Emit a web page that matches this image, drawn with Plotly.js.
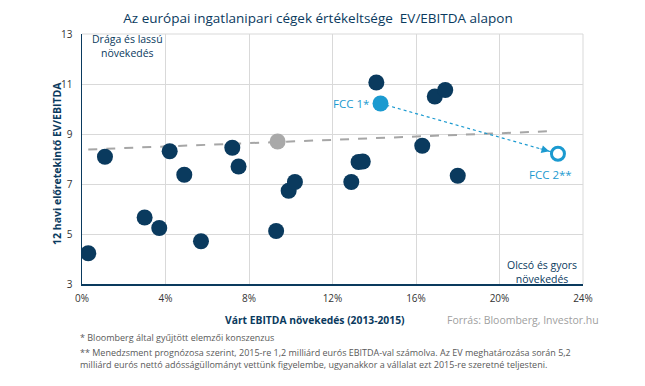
<!DOCTYPE html>
<html><head><meta charset="utf-8">
<script src="https://cdn.plot.ly/plotly-3.0.1.min.js"></script>
<style>html,body{margin:0;padding:0;background:#fff}#c{width:645px;height:386px}</style>
</head><body><div id="c"></div>
<script>
// Peer companies: expected EBITDA growth (%) and 12m forward EV/EBITDA
const peerGrowth = [0.3, 1.1, 3.0, 3.7, 4.2, 4.9, 5.7, 7.2, 7.5, 9.3, 9.9, 10.2, 12.9, 13.25, 13.45, 14.1, 16.3, 16.9, 17.4, 18.0];
const peerEV     = [4.23, 8.09, 5.66, 5.24, 8.31, 7.37, 4.71, 8.45, 7.70, 5.12, 6.73, 7.08, 7.08, 7.88, 7.90, 11.06, 8.53, 10.50, 10.76, 7.33];
// Average point (grey)
const avgGrowth = [9.37];
const avgEV = [8.70];
// FCC points
const fcc1 = {x: 14.3, y: 10.22, label: "FCC 1*"};
const fcc2 = {x: 22.8, y: 8.21, label: "FCC 2**"};
// Trend line endpoints
const trendX = [0.3, 22.7];
const trendY = [8.38, 9.12];
// Axis ticks
const xTicks = [0, 4, 8, 12, 16, 20, 24];
const xTickLabels = ["0%", "4%", "8%", "12%", "16%", "20%", "24%"];
const yTicks = [3, 5, 7, 9, 11, 13];

const navy = "#0a3a5e";
const blue = "#1b9ad0";
const font = "Open Sans, DejaVu Sans, sans-serif";

const traces = [
  {x: trendX, y: trendY, mode: "lines", line: {color: "#a6a6a6", width: 2, dash: "dash"}, hoverinfo: "skip"},
  {x: [fcc1.x, fcc2.x], y: [fcc1.y, fcc2.y], mode: "lines", line: {color: blue, width: 1.2, dash: "dot"}},
  {x: peerGrowth, y: peerEV, mode: "markers", marker: {color: navy, size: 16}},
  {x: avgGrowth, y: avgEV, mode: "markers", marker: {color: "#a9a9a9", size: 16}},
  {x: [fcc1.x], y: [fcc1.y], mode: "markers", marker: {color: blue, size: 16}},
  {x: [fcc2.x], y: [fcc2.y], mode: "markers", marker: {color: "#fff", size: 13, line: {color: blue, width: 3}}}
];

const foot = (y, text) => ({x: -0.008, y: y, xref: "paper", yref: "paper", xanchor: "left", yanchor: "middle", align: "left",
  text: text, showarrow: false, font: {size: 9, color: "#595959"}});

const layout = {
  width: 645, height: 386,
  margin: {l: 82, r: 62, t: 34, b: 102},
  showlegend: false,
  paper_bgcolor: "#fff", plot_bgcolor: "#fff",
  font: {family: font, color: "#333", size: 10},
  title: {text: "Az európai ingatlanipari cégek értékeltsége  EV/EBITDA alapon", x: 0.493, xanchor: "center", y: 0.953, yanchor: "middle", font: {family: font, size: 13.5, color: navy}},
  xaxis: {range: [0, 24], tickvals: xTicks, ticktext: xTickLabels, showgrid: true, gridcolor: "#d9d9d9", gridwidth: 1,
          showline: true, linecolor: navy, linewidth: 1.5, zeroline: false, ticks: "outside", ticklen: 4, tickcolor: "rgba(0,0,0,0)", tickfont: {size: 10, color: "#333"}},
  yaxis: {range: [3, 13], tickvals: yTicks, showgrid: true, gridcolor: "#d9d9d9", gridwidth: 1,
          showline: true, linecolor: navy, linewidth: 1.5, zeroline: false, ticks: "outside", ticklen: 6, tickcolor: "rgba(0,0,0,0)", tickfont: {size: 10, color: "#333"}},
  shapes: [
    {type: "line", xref: "paper", yref: "paper", x0: 0, x1: 1, y0: 1, y1: 1, line: {color: "#d9d9d9", width: 1}},
    {type: "line", xref: "paper", yref: "paper", x0: 1, x1: 1, y0: 0, y1: 1, line: {color: "#d9d9d9", width: 1}}
  ],
  annotations: [
    {x: fcc2.x, y: fcc2.y, xref: "x", yref: "y", ax: -19, ay: -5.4, text: "",
     showarrow: true, arrowhead: 2, arrowsize: 1.3, arrowwidth: 1.2, arrowcolor: blue, standoff: 9},
    {x: fcc1.x, y: fcc1.y, xref: "x", yref: "y", text: fcc1.label, showarrow: false, xanchor: "right", xshift: -10, font: {size: 11.5, color: blue}},
    {x: fcc2.x, y: fcc2.y, xref: "x", yref: "y", text: fcc2.label, showarrow: false, xanchor: "center", xshift: -7, yshift: -21, font: {size: 11.5, color: blue}},
    {x: 0.09, y: 0.954, xref: "paper", yref: "paper", text: "Drága és lassú<br>növekedés", showarrow: false, xanchor: "center", yanchor: "middle", font: {size: 10.5, color: navy}},
    {x: 0.918, y: 0.05, xref: "paper", yref: "paper", text: "Olcsó és gyors<br>növekedés", showarrow: false, xanchor: "center", yanchor: "middle", font: {size: 10.5, color: navy}},
    {x: -0.05, y: 0.484, xref: "paper", yref: "paper", textangle: -90, xanchor: "center", yanchor: "middle", text: "<b>12 havi előretekintő EV/EBITDA</b>", showarrow: false, font: {size: 10.5, color: navy}},
    {x: 0.465, y: -0.144, xref: "paper", yref: "paper", xanchor: "center", yanchor: "middle", text: "<b>Várt EBITDA növekedés (2013-2015)</b>", showarrow: false, font: {size: 10.3, color: navy}},
    {x: 0.88, y: -0.144, xref: "paper", yref: "paper", xanchor: "center", yanchor: "middle", text: "Forrás: Bloomberg, Investor.hu", showarrow: false, font: {size: 10.5, color: "#a0a0a0"}},
    foot(-0.212, "* Bloomberg által gyűjtött elemzői konszenzus"),
    foot(-0.297, "** Menedzsment prognózosa szerint, 2015-re 1,2 milliárd eurós EBITDA-val számolva. Az EV meghatározása során 5,2<br>milliárd eurós nettó adósságüllományt vettünk figyelembe, ugyanakkor a vállalat ezt 2015-re szeretné teljesteni.")
  ]
};
Plotly.newPlot("c", traces, layout, {displayModeBar: false, staticPlot: true});
</script></body></html>
